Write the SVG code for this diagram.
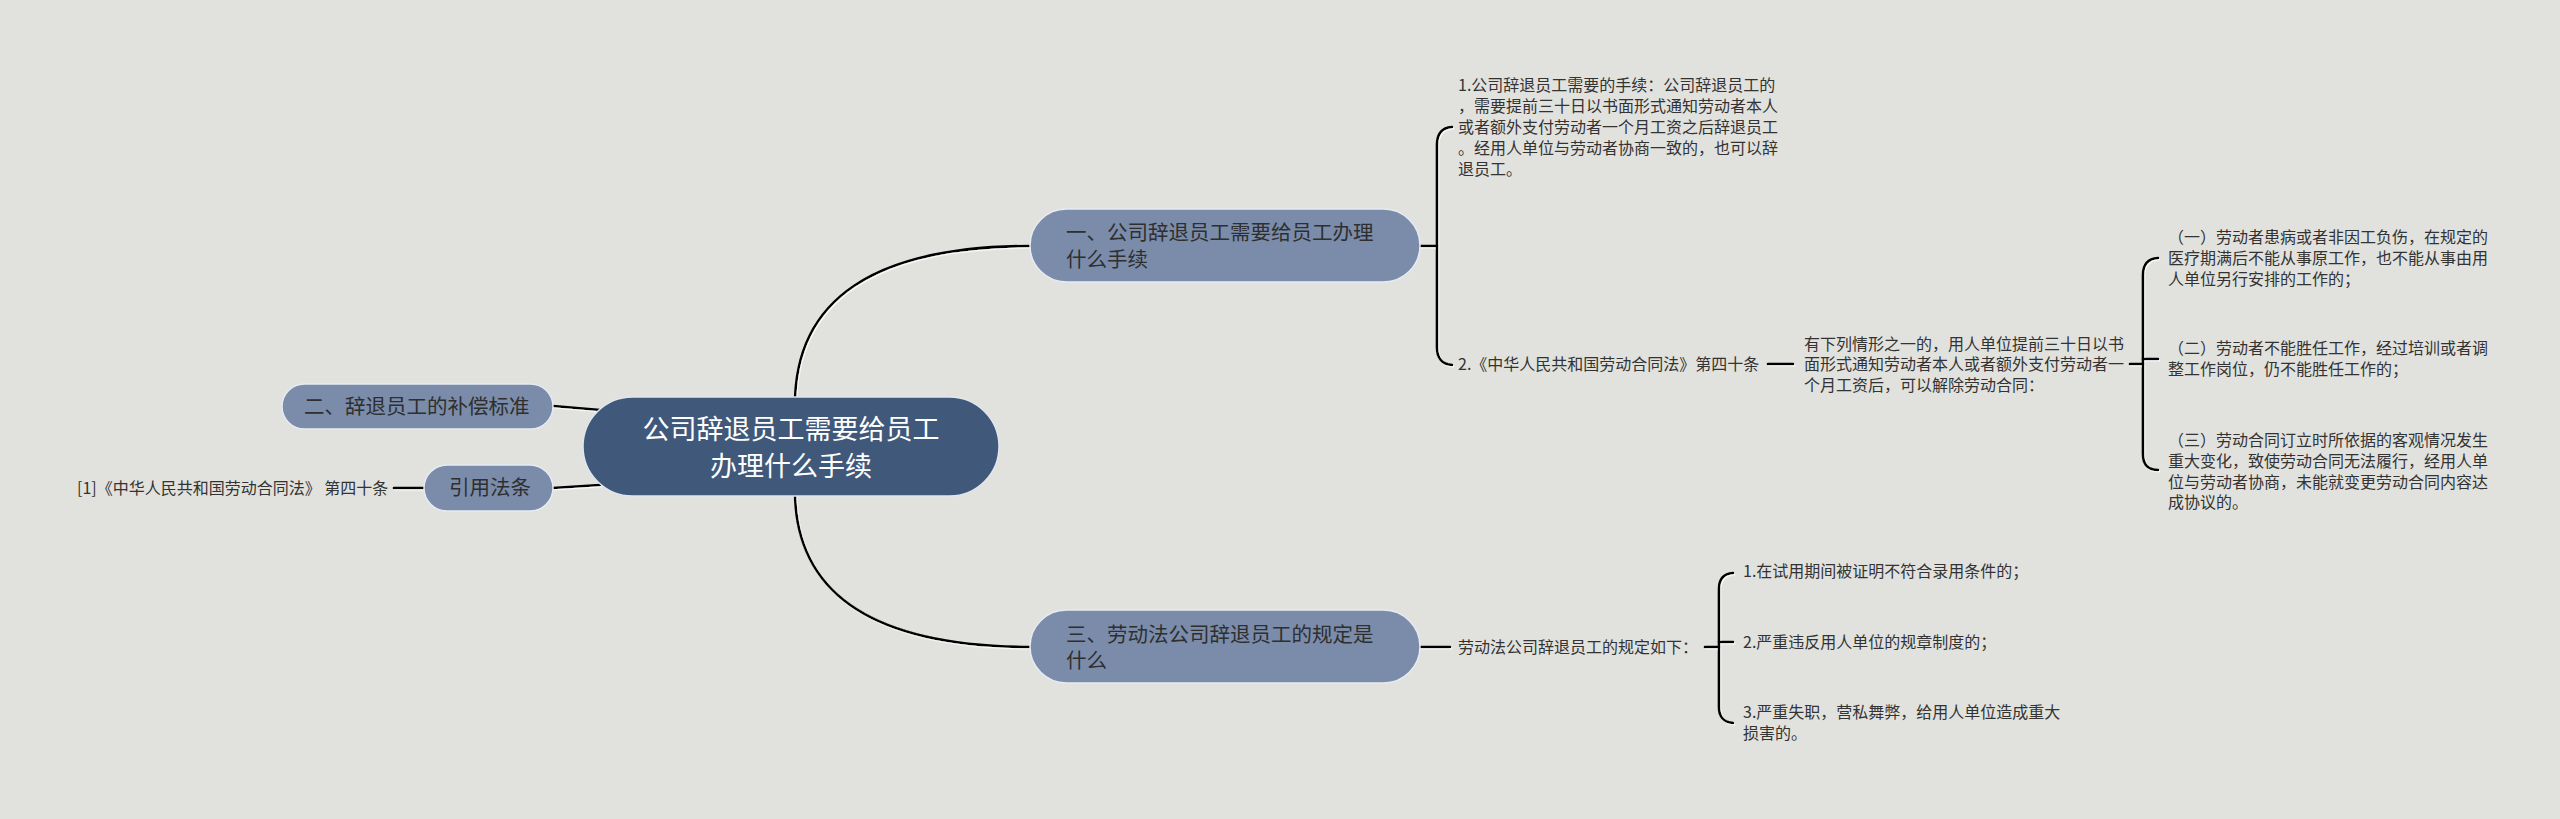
<svg xmlns="http://www.w3.org/2000/svg" width="2560" height="819" viewBox="0 0 2560 819">
<defs>
<style>
.bg{fill:#e1e2de}
.root{fill:#40597a;stroke:#dfe6ee;stroke-width:1.5}
.main{fill:#7a8caa;stroke:#e6ebf2;stroke-width:1.5}
.t{font-family:"Noto Sans CJK SC","Noto Sans",sans-serif}
.rt{font-size:27px;fill:#ffffff;text-anchor:middle}
.mt{font-size:20.5px;fill:#2f2f2f}
.lt{font-size:16px;fill:#333333}
.ln{fill:none;stroke:#000000;stroke-width:2.6;stroke-linecap:round}
</style>
<filter id="hl" x="-5%" y="-5%" width="110%" height="110%">
<feDropShadow dx="1" dy="1.2" stdDeviation="0" flood-color="#ffffff" flood-opacity="0.9"/>
</filter>
</defs>
<rect class="bg" x="0" y="0" width="2560" height="819"/>

<g id="connectors" filter="url(#hl)">
<path class="ln" d="M795,405 Q795,246 1032,246"/>
<path class="ln" d="M795,490 Q795,647 1032,647"/>
<path class="ln" d="M553,406 L600,410"/>
<path class="ln" d="M553,488 L600,485"/>
<path class="ln" d="M394,488 L425,488"/>
<path class="ln" d="M1420,246 H1437"/>
<path class="ln" d="M1452,127 Q1437,128 1437,145 V347 Q1437,364 1452,365"/>
<path class="ln" d="M1768,364 H1793"/>
<path class="ln" d="M2130,364 H2143"/>
<path class="ln" d="M2158,258 Q2143,259 2143,275 V454 Q2143,470 2158,470"/>
<path class="ln" d="M2143,359 H2158"/>
<path class="ln" d="M1420,647 H1450"/>
<path class="ln" d="M1705,647 H1719"/>
<path class="ln" d="M1733,573 Q1719,574 1719,589 V707 Q1719,722 1733,723"/>
<path class="ln" d="M1719,642 H1733"/>
</g>

<g id="root">
<rect class="root" x="583" y="397" width="416" height="99" rx="49.5"/>
<text class="t rt" x="791" y="439">公司辞退员工需要给员工</text>
<text class="t rt" x="791" y="476">办理什么手续</text>
</g>

<g id="topic1">
<rect class="main" x="1030" y="209" width="390" height="73" rx="36.5"/>
<text class="t mt" x="1066" y="240">一、公司辞退员工需要给员工办理</text>
<text class="t mt" x="1066" y="267">什么手续</text>
</g>

<g id="topic2">
<rect class="main" x="282" y="384" width="271" height="45" rx="22.5"/>
<text class="t mt" x="304" y="414">二、辞退员工的补偿标准</text>
</g>

<g id="topic-ref">
<rect class="main" x="424" y="465" width="129" height="46" rx="23"/>
<text class="t mt" x="449" y="495">引用法条</text>
</g>

<g id="topic3">
<rect class="main" x="1030" y="610" width="390" height="73" rx="36.5"/>
<text class="t mt" x="1066" y="642">三、劳动法公司辞退员工的规定是</text>
<text class="t mt" x="1066" y="668">什么</text>
</g>

<g id="ref-leaf">
<text class="t lt" x="77" y="494">[1]《中华人民共和国劳动合同法》 第四十条</text>
</g>

<g id="leaf1-1">
<text class="t lt" x="1458" y="91">1.公司辞退员工需要的手续：公司辞退员工的</text>
<text class="t lt" x="1458" y="112">，需要提前三十日以书面形式通知劳动者本人</text>
<text class="t lt" x="1458" y="133">或者额外支付劳动者一个月工资之后辞退员工</text>
<text class="t lt" x="1458" y="154">。经用人单位与劳动者协商一致的，也可以辞</text>
<text class="t lt" x="1458" y="175">退员工。</text>
</g>

<g id="leaf1-2">
<text class="t lt" x="1458" y="370">2.《中华人民共和国劳动合同法》第四十条</text>
</g>

<g id="leaf1-2-1">
<text class="t lt" x="1804" y="350">有下列情形之一的，用人单位提前三十日以书</text>
<text class="t lt" x="1804" y="370">面形式通知劳动者本人或者额外支付劳动者一</text>
<text class="t lt" x="1804" y="391">个月工资后，可以解除劳动合同：</text>
</g>

<g id="case1">
<text class="t lt" x="2168" y="243">（一）劳动者患病或者非因工负伤，在规定的</text>
<text class="t lt" x="2168" y="264">医疗期满后不能从事原工作，也不能从事由用</text>
<text class="t lt" x="2168" y="285">人单位另行安排的工作的；</text>
</g>

<g id="case2">
<text class="t lt" x="2168" y="354">（二）劳动者不能胜任工作，经过培训或者调</text>
<text class="t lt" x="2168" y="375">整工作岗位，仍不能胜任工作的；</text>
</g>

<g id="case3">
<text class="t lt" x="2168" y="446">（三）劳动合同订立时所依据的客观情况发生</text>
<text class="t lt" x="2168" y="467">重大变化，致使劳动合同无法履行，经用人单</text>
<text class="t lt" x="2168" y="488">位与劳动者协商，未能就变更劳动合同内容达</text>
<text class="t lt" x="2168" y="508">成协议的。</text>
</g>

<g id="leaf3-1">
<text class="t lt" x="1458" y="653">劳动法公司辞退员工的规定如下：</text>
</g>

<g id="rule1">
<text class="t lt" x="1743" y="577">1.在试用期间被证明不符合录用条件的；</text>
</g>
<g id="rule2">
<text class="t lt" x="1743" y="648">2.严重违反用人单位的规章制度的；</text>
</g>
<g id="rule3">
<text class="t lt" x="1743" y="718">3.严重失职，营私舞弊，给用人单位造成重大</text>
<text class="t lt" x="1743" y="739">损害的。</text>
</g>
</svg>
